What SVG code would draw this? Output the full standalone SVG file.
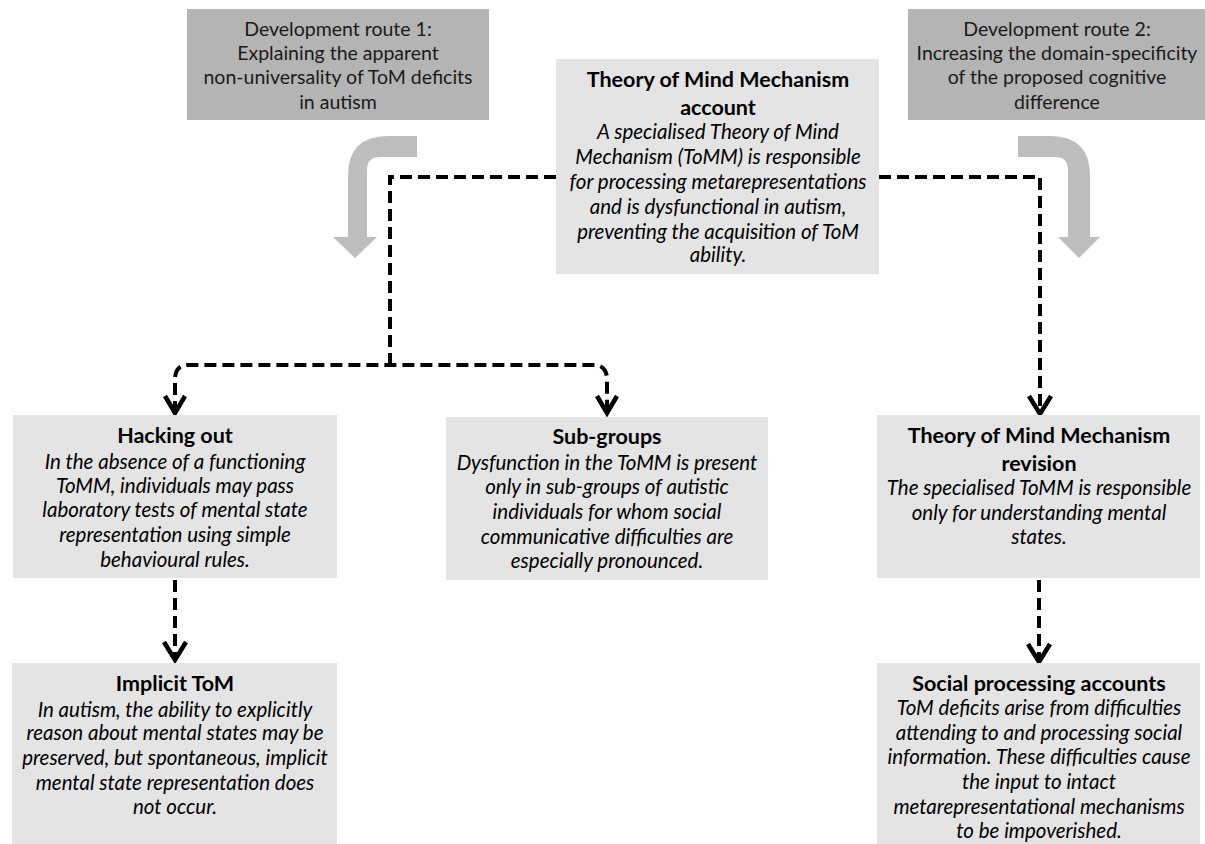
<svg xmlns="http://www.w3.org/2000/svg" width="1205" height="844" viewBox="0 0 1205 844">
<defs>
<style>
.route{fill:#b4b4b4}
.box{fill:#e4e4e4}
.curve{fill:#bdbdbd}
text{font-family:Lato,"Liberation Sans",sans-serif;font-size:20.5px;fill:#000;text-anchor:middle}
.r{font-size:19.5px;fill:#1a1a1a}
.b{font-weight:bold;font-size:21.5px}
.i{font-style:italic}
.dash{fill:none;stroke:#000;stroke-width:4;stroke-dasharray:12 6}
.head{fill:none;stroke:#000;stroke-width:4.5}
</style>
</defs>
<rect width="1205" height="844" fill="#fff"/>

<g id="route1">
<rect class="route" x="187" y="9" width="302" height="111"/>
<text class="r" x="338" y="36">Development route 1:</text>
<text class="r" x="338" y="60">Explaining the apparent</text>
<text class="r" x="338" y="84">non-universality of ToM deficits</text>
<text class="r" x="338" y="109">in autism</text>
</g>

<g id="route2">
<rect class="route" x="908" y="9" width="297" height="111"/>
<text class="r" x="1057" y="36">Development route 2:</text>
<text class="r" x="1057" y="60">Increasing the domain-specificity</text>
<text class="r" x="1057" y="84">of the proposed cognitive</text>
<text class="r" x="1057" y="109">difference</text>
</g>

<g id="route-arrows">
<path class="curve" d="M417,136 H388 Q348,136 348,176 V237 H333 L355,258 L377,237 H367 V170 Q367,157 380,157 H417 Z"/>
<path class="curve" d="M1018,136 H1050 Q1090,136 1090,176 V237 H1100 L1079,258 L1058,237 H1068 V170 Q1068,157 1055,157 H1018 Z"/>
</g>

<g id="connectors">
<path class="dash" d="M556,177 H390 V365"/>
<path class="dash" d="M175,413 V378 Q176,365 188,365 H594 Q606,365 607,378 V413"/>
<path class="dash" d="M879,177 H1040 V413"/>
<path class="dash" d="M175,580 V660"/>
<path class="dash" d="M1039,580 V662"/>
<path class="head" d="M165,396 L175,413 L185,396"/>
<path class="head" d="M597,396 L607,413 L617,396"/>
<path class="head" d="M1029,396 L1040,414 L1051,396"/>
<path class="head" d="M164,642 L175,660 L186,642"/>
<path class="head" d="M1028,644 L1039,662 L1050,644"/>
</g>

<g id="tomm">
<rect class="box" x="556" y="59" width="323" height="215"/>
<text class="b" x="718" y="87">Theory of Mind Mechanism</text>
<text class="b" x="718" y="115">account</text>
<text class="i" x="718" y="139">A specialised Theory of Mind</text>
<text class="i" x="718" y="164">Mechanism (ToMM) is responsible</text>
<text class="i" x="718" y="189">for processing metarepresentations</text>
<text class="i" x="718" y="214">and is dysfunctional in autism,</text>
<text class="i" x="718" y="239">preventing the acquisition of ToM</text>
<text class="i" x="718" y="262">ability.</text>
</g>

<g id="hacking">
<rect class="box" x="13" y="415" width="324" height="163"/>
<text class="b" x="175" y="443">Hacking out</text>
<text class="i" x="175" y="469">In the absence of a functioning</text>
<text class="i" x="175" y="493">ToMM, individuals may pass</text>
<text class="i" x="175" y="517">laboratory tests of mental state</text>
<text class="i" x="175" y="542">representation using simple</text>
<text class="i" x="175" y="567">behavioural rules.</text>
</g>

<g id="subgroups">
<rect class="box" x="446" y="417" width="322" height="163"/>
<text class="b" x="607" y="444">Sub-groups</text>
<text class="i" x="607" y="470">Dysfunction in the ToMM is present</text>
<text class="i" x="607" y="494">only in sub-groups of autistic</text>
<text class="i" x="607" y="519">individuals for whom social</text>
<text class="i" x="607" y="544">communicative difficulties are</text>
<text class="i" x="607" y="568">especially pronounced.</text>
</g>

<g id="revision">
<rect class="box" x="877" y="415" width="323" height="163"/>
<text class="b" x="1039" y="443">Theory of Mind Mechanism</text>
<text class="b" x="1039" y="471">revision</text>
<text class="i" x="1039" y="495">The specialised ToMM is responsible</text>
<text class="i" x="1039" y="520">only for understanding mental</text>
<text class="i" x="1039" y="544">states.</text>
</g>

<g id="implicit">
<rect class="box" x="12" y="663" width="325" height="181"/>
<text class="b" x="175" y="691">Implicit ToM</text>
<text class="i" x="175" y="717">In autism, the ability to explicitly</text>
<text class="i" x="175" y="740">reason about mental states may be</text>
<text class="i" x="175" y="765">preserved, but spontaneous, implicit</text>
<text class="i" x="175" y="790">mental state representation does</text>
<text class="i" x="175" y="814">not occur.</text>
</g>

<g id="social">
<rect class="box" x="877" y="663" width="323" height="181"/>
<text class="b" x="1039" y="691">Social processing accounts</text>
<text class="i" x="1039" y="715">ToM deficits arise from difficulties</text>
<text class="i" x="1039" y="740">attending to and processing social</text>
<text class="i" x="1039" y="764">information. These difficulties cause</text>
<text class="i" x="1039" y="789">the input to intact</text>
<text class="i" x="1039" y="814">metarepresentational mechanisms</text>
<text class="i" x="1039" y="838">to be impoverished.</text>
</g>
</svg>
